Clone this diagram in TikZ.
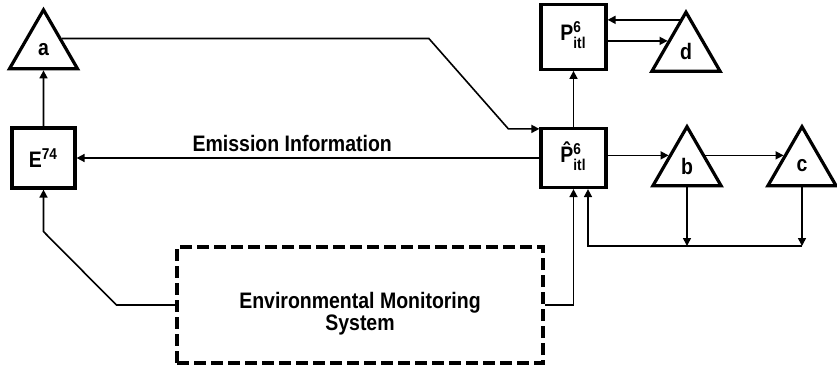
\documentclass[tikz,border=0pt]{standalone}
\usepackage{amsmath}
\usepackage{fontspec}
\setmainfont{Liberation Sans}[FakeStretch=0.87]
\usepackage{tikz}
\usetikzlibrary{positioning,arrows.meta,shapes.geometric,calc}
\tikzset{
block/.style={
draw,
line width=1.6pt,
inner sep=0pt,
align=center,
font=\bfseries\fontsize{11.2}{13}\selectfont
},
tri/.style={
draw,
regular polygon,
regular polygon sides=3,
minimum size=39.3pt,
inner sep=0pt,
line width=1.6pt,
font=\bfseries\fontsize{11.2}{13}\selectfont
},
monitor/.style={
draw,
line width=1.6pt,
dash pattern=on 6pt off 2.5pt,
minimum width=183pt,
minimum height=58pt,
align=center,
font=\bfseries\fontsize{11.2}{11}\selectfont
},
arrow/.style={
-{Triangle[length=4pt,width=4pt]},
line width=0.8pt
}
}

\begin{document}
\begin{tikzpicture}[node distance=28pt]

\useasboundingbox (0,0) rectangle (418.5pt,183pt);

\node[block,minimum width=31.5pt,minimum height=30pt](E74) at (21.75pt,104pt){E$^{\text{74}}$};

\node[tri,above=of E74](a){a};

\node[block,minimum width=32.5pt,minimum height=29.5pt](Phat) at (286.75pt,104pt){\^{P}$^{\text{6}}_{\text{itl}\vphantom{(}}$};

\node[block,minimum width=32.5pt,minimum height=32.5pt,above=of Phat](Ptop){P$^{\text{6}}_{\text{itl}\vphantom{(}}$};

\node[tri](d) at (343pt,157.25pt){d};

\node[tri](b) at (343.5pt,100pt){b};

\node[tri](c) at (401pt,100pt){c};

\node[monitor](env) at (180pt,30.5pt){\rule{0pt}{17pt}Environmental Monitoring\\System};

\coordinate (fb) at (294pt,60pt);

\coordinate (dback) at ($(d.corner 1)!0.17!(d.corner 2)$);

\draw[arrow](E74)--(a);

\draw[arrow]
(a.side 3)
--++(183.5pt,0)
--([xshift=-15.5pt,yshift=-1pt]Phat.north west)
--([yshift=-1pt]Phat.north west);

\draw[arrow](Phat)--node[above,inner sep=2.5pt,pos=0.534,font=\bfseries\fontsize{11.2}{13}\selectfont]{Emission Information}(E74);

\draw[arrow](Phat)--(Ptop);

\draw[arrow](Ptop.east|-d.side 1)--(d.side 1);

\draw[arrow](dback)--(dback-|Ptop.east);

\draw[arrow](Phat.east|-b.side 1)--(b.side 1);

\draw[arrow](b.side 3)--(c.side 1);

\draw[arrow](b.side 2)--(b.side 2|-fb);

\draw[arrow](c.side 2)--(c.side 2|-fb);

\draw[arrow](c.side 2|-fb)--(fb)--(fb|-Phat.south);

\draw[arrow](env.east)-|(Phat.south);

\draw[arrow]
(env.west)
--++(-29.5pt,0)
--([yshift=-21pt]E74.south)
--(E74.south);

\end{tikzpicture}
\end{document}
